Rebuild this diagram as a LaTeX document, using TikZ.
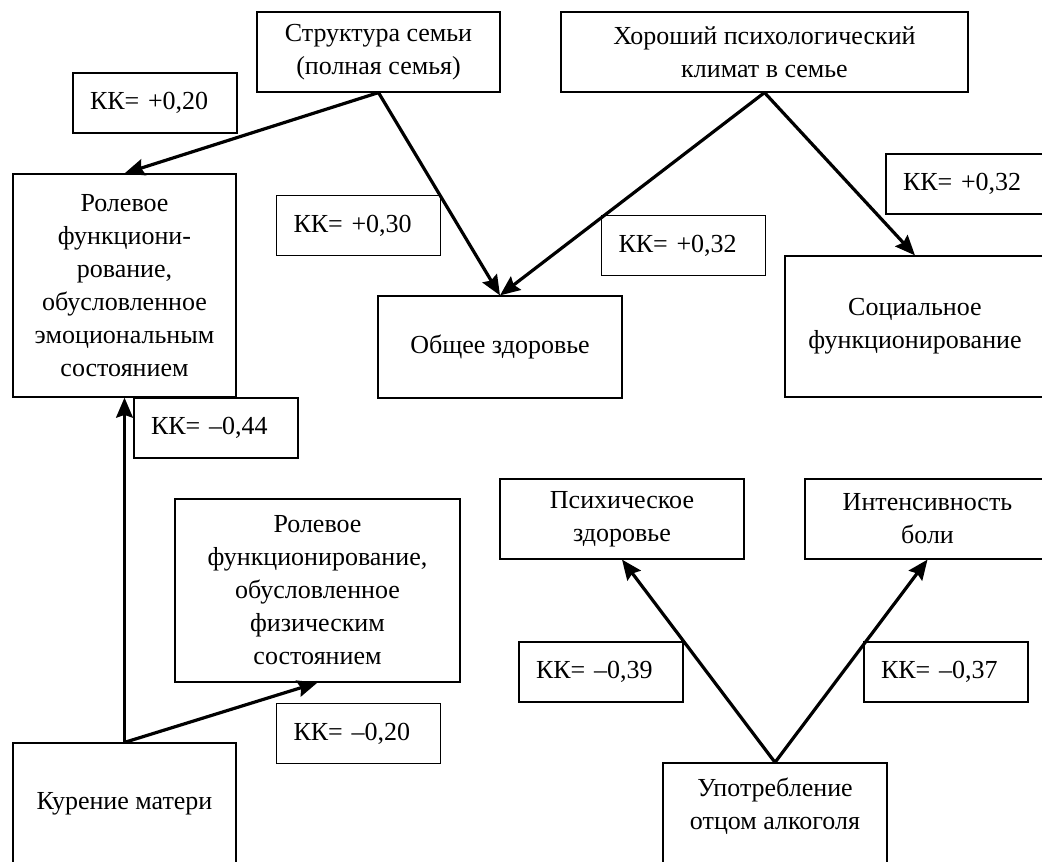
\documentclass[tikz,border=0pt]{standalone}
\usepackage{fontspec}
\setmainfont{Liberation Serif}
\usetikzlibrary{arrows.meta}
\newdimen\pxu
\pxu=0.75pt
\begin{document}
\begin{tikzpicture}[x=0.75pt,y=-0.75pt,
  font=\fontsize{19.5pt}{24.75pt}\selectfont,
  box/.style={draw=black, line width=0.9pt, inner sep=0pt, align=center},
  kk/.style={draw=black, line width=0.9pt, inner sep=0pt, minimum width=164\pxu,
    minimum height=60\pxu, text width=130\pxu, align=left},
  arr/.style={line width=2.4pt, -{Stealth[length=15pt,width=12.5pt,inset=2pt]}}]
\useasboundingbox (0,0) rectangle (1042,862);
\clip (0,0) rectangle (1042,862);
\fill[white] (0,0) rectangle (1042,862);

% boxes
\node[box, minimum width=243\pxu, minimum height=80\pxu] (struct) at (378.5,52)
  {Структура семьи\\(полная семья)};
\node[box, minimum width=407\pxu, minimum height=80\pxu] (climate) at (764.5,52)
  {Хороший психологический\\климат в семье};
\node[kk] (kk1) at (155,103) {КК= +0,20};
\node[kk] (kk2) at (358.5,225.5) {КК= +0,30};
\node[box, minimum width=223\pxu, minimum height=223\pxu] (roleE) at (124.5,285.5)
  {Ролевое\\функциони-\\рование,\\обусловленное\\эмоциональным\\состоянием};
\node[box, minimum width=244\pxu, minimum height=102\pxu] (gh) at (500,347)
  {Общее здоровье};
\node[kk] (kk3) at (683.5,245.5) {КК= +0,32};
\node[kk] (kk4) at (968,184) {КК= +0,32};
\node[box, minimum width=260\pxu, minimum height=141\pxu] (social) at (915,326.5)
  {Социальное\\функционирование};
\node[kk] (kk5) at (216,428) {КК= –0,44};
\node[box, minimum width=285\pxu, minimum height=183\pxu] (roleP) at (317.5,590.5)
  {Ролевое\\функционирование,\\обусловленное\\физическим\\состоянием};
\node[kk] (kk6) at (358.5,733.5) {КК= –0,20};
\node[box, minimum width=223\pxu, minimum height=122\pxu] (smoke) at (124.5,804)
  {Курение матери};
\node[box, minimum width=244\pxu, minimum height=80\pxu] (psych) at (622,519)
  {Психическое\\здоровье};
\node[box, minimum width=245\pxu, minimum height=80\pxu] (pain) at (927.5,519)
  {Интенсивность\\боли};
\node[kk] (kk7) at (601,672) {КК= –0,39};
\node[kk] (kk8) at (946,672) {КК= –0,37};
\node[box, minimum width=224\pxu, minimum height=137\pxu] (alc) at (775,831.5) {};
\node[align=center, inner sep=0pt] (alct) at (775,806) {Употребление\\отцом алкоголя};

% connectors
\draw[arr] (struct.south) -- (roleE.north);
\draw[arr] (struct.south) -- (gh.north);
\draw[arr] (climate.south) -- (gh.north);
\draw[arr] (climate.south) -- (social.north);
\draw[arr] (smoke.north) -- (roleE.south);
\draw[arr] (smoke.north) -- (roleP.south);
\draw[arr] (alc.north) -- (psych.south);
\draw[arr] (alc.north) -- (pain.south);
\end{tikzpicture}
\end{document}
